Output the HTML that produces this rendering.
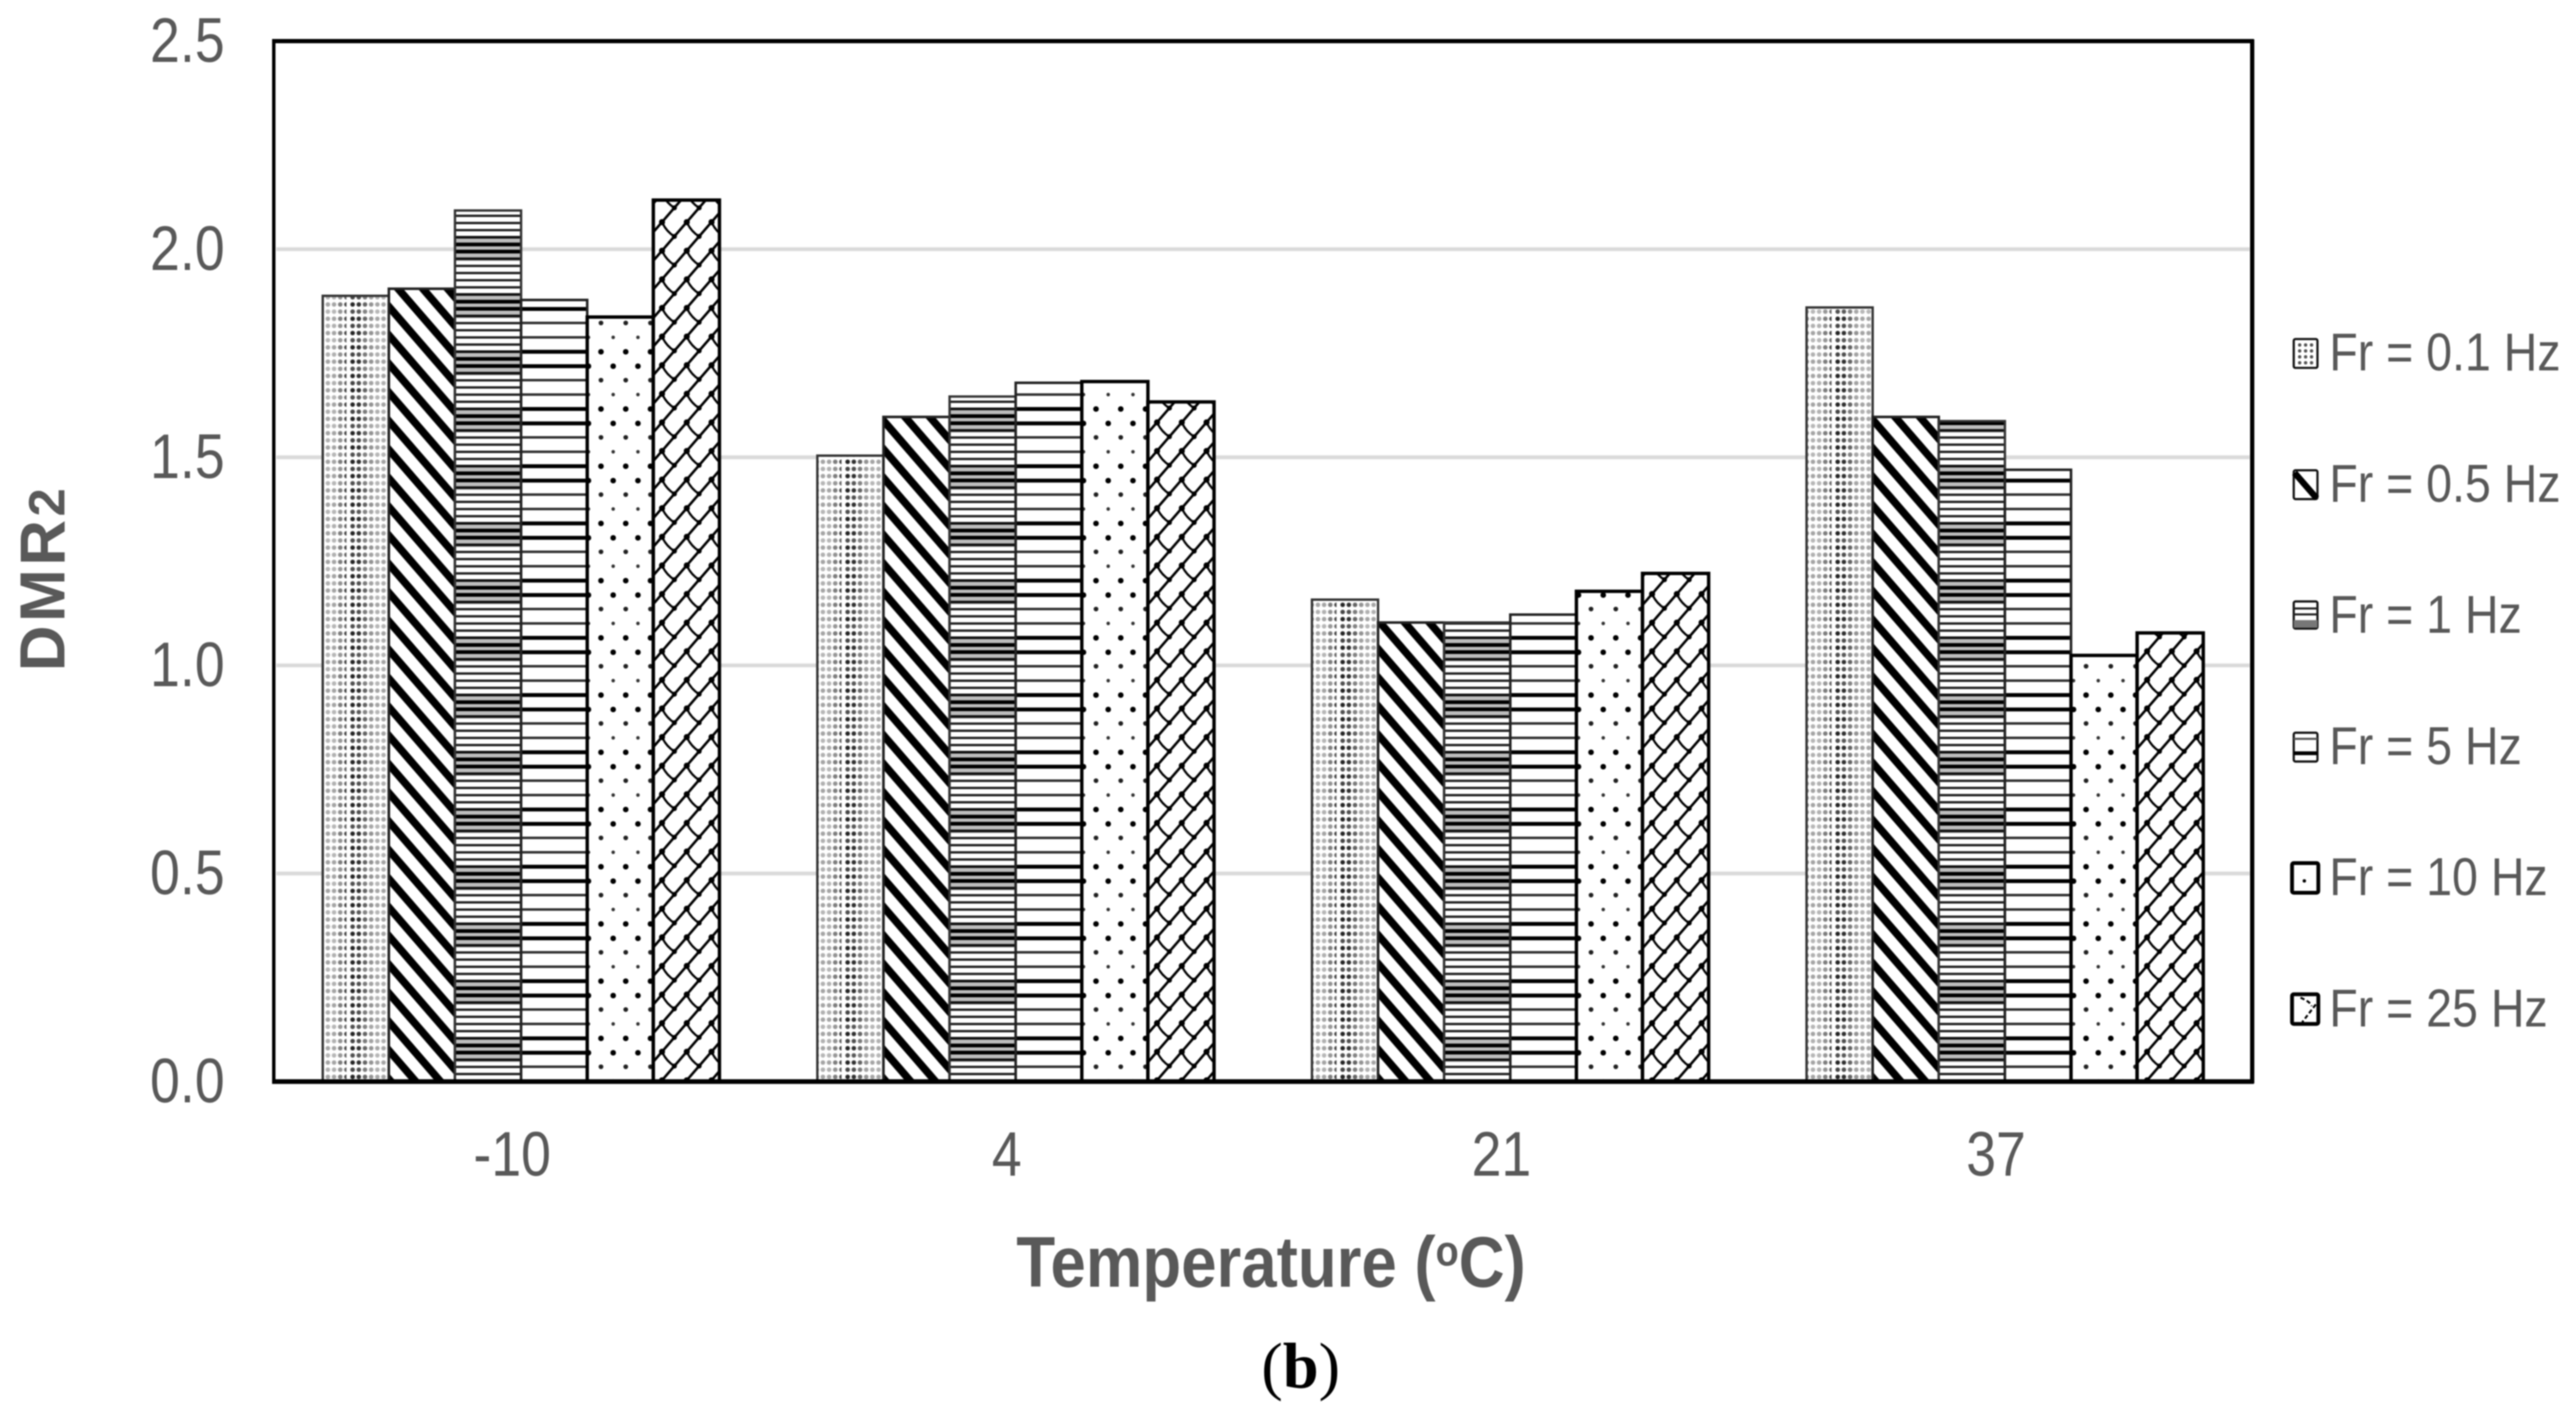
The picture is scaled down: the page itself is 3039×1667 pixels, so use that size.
<!DOCTYPE html>
<html lang="en">
<head>
<meta charset="utf-8">
<title>DMR2 vs Temperature</title>
<style>
html,body{margin:0;padding:0;background:#fff;}
body{width:3039px;height:1667px;overflow:hidden;}
svg{display:block;filter:blur(0.7px);}
text{font-family:"Liberation Sans",sans-serif;fill:#595959;}
</style>
</head>
<body>
<svg id="chart" xmlns="http://www.w3.org/2000/svg" width="3039" height="1667" viewBox="0 0 3039 1667">
  <defs>
    <pattern id="p0" patternUnits="userSpaceOnUse" width="58.4" height="33.75"><rect width="58.4" height="33.75" fill="#fff"/></pattern>
    <pattern id="p1" patternUnits="userSpaceOnUse" width="29.2" height="33.75" patternTransform="translate(1070 528.3)">
      <rect width="29.2" height="33.75" fill="#fff"/>
      <line x1="-14.6" y1="-16.9" x2="43.8" y2="50.6" stroke="#000" stroke-width="9"/>
      <line x1="14.6" y1="-16.9" x2="73" y2="50.6" stroke="#000" stroke-width="9"/>
      <line x1="-43.8" y1="-16.9" x2="14.6" y2="50.6" stroke="#000" stroke-width="9"/>
    </pattern>
    <pattern id="p2" patternUnits="userSpaceOnUse" width="10" height="67.5">
      <rect width="10" height="67.5" fill="#fff"/>
      <rect y="10" width="10" height="28" fill="#bcbcbc"/>
      <rect y="0.1" width="10" height="2.8" fill="#222"/>
      <rect y="8.3" width="10" height="3.2" fill="#111"/>
      <rect y="16.2" width="10" height="4.4" fill="#000"/>
      <rect y="24.6" width="10" height="4.4" fill="#000"/>
      <rect y="33.7" width="10" height="3.2" fill="#111"/>
      <rect y="42.3" width="10" height="2.8" fill="#222"/>
      <rect y="50.7" width="10" height="2.8" fill="#222"/>
      <rect y="59.2" width="10" height="2.8" fill="#222"/>
    </pattern>
    <pattern id="p3" patternUnits="userSpaceOnUse" width="10" height="67.5">
      <rect width="10" height="67.5" fill="#fff"/>
      <rect y="7.7" width="10" height="4.6" fill="#000"/>
      <rect y="24.7" width="10" height="4.6" fill="#000"/>
      <rect y="42" width="10" height="3" fill="#333"/>
      <rect y="59" width="10" height="3" fill="#333"/>
    </pattern>
    <pattern id="p4" patternUnits="userSpaceOnUse" width="29.2" height="67.5">
      <rect width="29.2" height="67.5" fill="#fff"/>
      <circle cx="8.2" cy="10" r="3.3" fill="#000"/>
      <circle cx="22.6" cy="27" r="3.3" fill="#000"/>
      <circle cx="8.2" cy="43.5" r="2.8" fill="#222"/>
      <circle cx="22.6" cy="60.5" r="2.1" fill="#333"/>
    </pattern>
    <pattern id="p5" patternUnits="userSpaceOnUse" width="29.2" height="33.75" patternTransform="translate(1365 498.3)">
      <rect width="29.2" height="33.75" fill="#fff"/>
      <line x1="-5" y1="39.5" x2="34" y2="-5.6" stroke="#000" stroke-width="3"/>
      <path d="M0 0 Q5 11 14.6 16.9" fill="none" stroke="#000" stroke-width="2.6"/>
      <circle cx="14.6" cy="16.9" r="3" fill="#000"/>
      <circle cx="0" cy="0" r="3.6" fill="#000"/>
      <circle cx="29.2" cy="0" r="3.6" fill="#000"/>
      <circle cx="0" cy="33.75" r="3.6" fill="#000"/>
      <circle cx="29.2" cy="33.75" r="3.6" fill="#000"/>
    </pattern>
  </defs>
</svg>
<script>
const categories = ['-10', '4', '21', '37'];
const yTickLabels = ['0.0', '0.5', '1.0', '1.5', '2.0', '2.5'];
const yTickValues = [0, 0.5, 1.0, 1.5, 2.0, 2.5];
const seriesNames = ['Fr = 0.1 Hz', 'Fr = 0.5 Hz', 'Fr = 1 Hz', 'Fr = 5 Hz', 'Fr = 10 Hz', 'Fr = 25 Hz'];
const fr01 = [1.888, 1.504, 1.158, 1.860];
const fr05 = [1.905, 1.597, 1.103, 1.597];
const fr1 = [2.093, 1.646, 1.103, 1.587];
const fr5 = [1.878, 1.679, 1.122, 1.470];
const fr10 = [1.837, 1.682, 1.178, 1.024];
const fr25 = [2.118, 1.633, 1.221, 1.078];
const seriesValues = [fr01, fr05, fr1, fr5, fr10, fr25];

const NS = 'http://www.w3.org/2000/svg';
const svg = document.getElementById('chart');
const plot = {left: 323, right: 2657, top: 48.5, bottom: 1276, yMax: 2.5};
const barWidth = 78;
const xCondense = 0.855;

function yScale(v) { return plot.bottom - (v / plot.yMax) * (plot.bottom - plot.top); }
function groupCenter(i) { return plot.left + (i + 0.5) * (plot.right - plot.left) / categories.length; }
function barLeft(g, s) { return groupCenter(g) - seriesValues.length * barWidth / 2 + s * barWidth; }

function mk(tag, attrs, parent) {
  const el = document.createElementNS(NS, tag);
  for (const k in attrs) el.setAttribute(k, attrs[k]);
  (parent || svg).appendChild(el);
  return el;
}

/* fine dot tile for the first series */
const dotTile = document.getElementById('p0');
const colAlpha = [0.85, 0.8, 0.6, 0.42, 0.35, 0.35, 0.5, 0.72];
const rowAlpha = [1, 0.85, 1, 0.8];
for (let c = 0; c < 8; c++) {
  for (let r = 0; r < 4; r++) {
    mk('circle', {cx: ((7.2 + c * 7.3) % 58.4).toFixed(2), cy: (4.8 + r * 8.44).toFixed(2), r: 2.7, fill: '#000', 'fill-opacity': (colAlpha[c] * rowAlpha[r]).toFixed(2)}, dotTile);
  }
}

/* gridlines */
const gridGroup = mk('g', {});


yTickValues.forEach(function (v) {
  if (v === 0 || v === plot.yMax) return;
  const line = mk('line', {x1: plot.left + 3, x2: plot.right - 3, y1: yScale(v), y2: yScale(v), stroke: '#dadada', 'stroke-width': 4.5}, gridGroup);
  
  
});

/* bars */
const strokeWidths = [2.8, 3, 2.8, 3, 4, 4];
const strokeTones = ['#333', '#222', '#333', '#222', '#000', '#000'];
const barGroup = mk('g', {});


seriesValues.forEach(function (values, s) {
  values.forEach(function (v, g) {
    const rect = mk('rect', {
      x: barLeft(g, s), y: yScale(v), width: barWidth, height: plot.bottom - yScale(v),
      fill: 'url(#p' + s + ')', stroke: strokeTones[s], 'stroke-width': strokeWidths[s]
    }, barGroup);
    
    
  });
});

/* plot frame */
const frame = mk('g', {fill: 'none', stroke: '#000'});


mk('line', {x1: plot.left, x2: plot.left, y1: plot.top - 2, y2: plot.bottom, 'stroke-width': 4}, frame);
mk('line', {x1: plot.right, x2: plot.right, y1: plot.top - 2, y2: plot.bottom + 2, 'stroke-width': 5}, frame);
mk('line', {x1: plot.left - 2, x2: plot.right + 2, y1: plot.top, y2: plot.top, 'stroke-width': 5}, frame);
mk('line', {x1: plot.left - 2, x2: plot.right + 2, y1: plot.bottom, y2: plot.bottom, 'stroke-width': 5.5}, frame);

/* y tick labels */
yTickLabels.forEach(function (label, i) {
  const t = mk('text', {transform: 'translate(265 ' + (yScale(yTickValues[i]) + 24.3) + ') scale(' + xCondense + ' 1)', 'text-anchor': 'end', 'font-size': 74});
  
  
  t.textContent = label;
});

/* x tick labels */
categories.forEach(function (label, i) {
  const t = mk('text', {transform: 'translate(' + (groupCenter(i) - 10.5) + ' 1387) scale(' + xCondense + ' 1)', 'text-anchor': 'middle', 'font-size': 74});
  
  
  t.textContent = label;
});

/* legend */
const swatchGlyphs = [
  '<rect x="0" y="0" width="28" height="34" rx="2" fill="#fff" stroke="#111" stroke-width="2.6"/>' +
    '<g fill="#555"><circle cx="7" cy="7" r="2"/><circle cx="14" cy="7" r="2"/><circle cx="21" cy="7" r="2"/><circle cx="7" cy="14" r="2"/><circle cx="14" cy="14" r="2"/><circle cx="21" cy="14" r="2"/><circle cx="7" cy="21" r="2"/><circle cx="14" cy="21" r="2"/><circle cx="21" cy="21" r="2"/><circle cx="7" cy="28" r="2"/><circle cx="14" cy="28" r="2"/><circle cx="21" cy="28" r="2"/></g>',
  '<rect x="0" y="0" width="28" height="34" rx="2" fill="#fff" stroke="#111" stroke-width="2.6"/>' +
    '<line x1="1" y1="3" x2="27" y2="33" stroke="#000" stroke-width="7.5"/>',
  '<rect x="0" y="0" width="28" height="32" rx="2" fill="#fff" stroke="#111" stroke-width="2.6"/>' +
    '<rect x="0" y="7" width="28" height="2.5" fill="#222"/><rect x="0" y="14" width="28" height="2.5" fill="#222"/><rect x="0" y="22" width="28" height="9" fill="#777"/>',
  '<rect x="0" y="0" width="28" height="34" rx="2" fill="#fff" stroke="#111" stroke-width="2.6"/>' +
    '<rect x="0" y="6" width="28" height="2.5" fill="#555"/><rect x="0" y="22" width="28" height="4.5" fill="#000"/>',
  '<rect x="-2" y="-1" width="31" height="35" rx="2" fill="#fff" stroke="#000" stroke-width="4.5"/>' +
    '<circle cx="12.5" cy="20" r="2" fill="#000"/>',
  '<rect x="-2" y="-1" width="31" height="35" rx="2" fill="#fff" stroke="#000" stroke-width="4.5"/>' +
    '<path d="M8 3 Q20 8 21 13 M26 11 L10 32" fill="none" stroke="#000" stroke-width="2.4" stroke-dasharray="5 3"/>'
];
seriesNames.forEach(function (name, i) {
  const base = 437 + 154.8 * i;
  const entry = mk('g', {});
  
  
  const swatch = mk('g', {transform: 'translate(2706 ' + (base - 37) + ')'}, entry);
  
  
  swatch.innerHTML = swatchGlyphs[i];
  const t = mk('text', {transform: 'translate(2748 ' + base + ') scale(0.871 1)', 'font-size': 63}, entry);
  
  
  t.textContent = name;
});
</script>
<svg xmlns="http://www.w3.org/2000/svg" width="3039" height="1667" viewBox="0 0 3039 1667" style="position:absolute;left:0;top:0;">
  <text transform="translate(76 792) rotate(-90)" font-size="75" font-weight="700" textLength="216" lengthAdjust="spacing">DMR<tspan font-size="60">2</tspan></text>
  <text transform="translate(1199 1518) scale(0.893 1)" font-size="84" font-weight="700">Temperature (<tspan font-size="50" dy="-25">o</tspan><tspan dy="25">C)</tspan></text>
  <text x="1488" y="1637" font-size="76" style="font-family:'Liberation Serif',serif;fill:#000;">(<tspan font-weight="700">b</tspan>)</text>
</svg>
</body>
</html>
